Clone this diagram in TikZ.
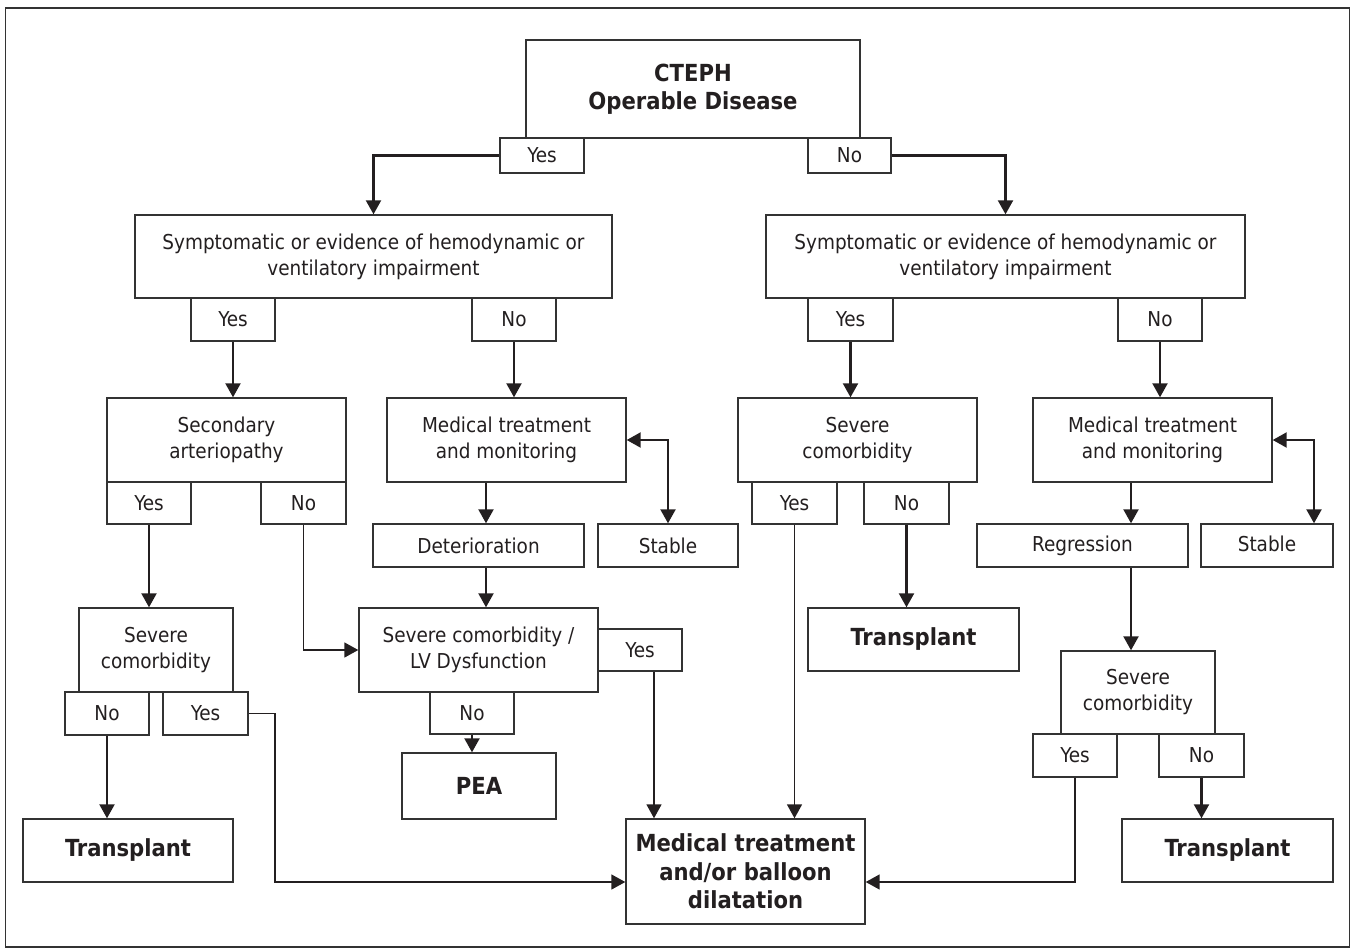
\documentclass[tikz,border=0pt]{standalone}
\usepackage{fontspec}
\setmainfont{DejaVu Sans Condensed}
\usetikzlibrary{arrows.meta,calc}
\definecolor{ink}{HTML}{231F20}
\definecolor{edge}{HTML}{333333}
\begin{document}
\begin{tikzpicture}[x=1pt,y=-1pt,
  box/.style={draw=edge,line width=1.4pt,fill=white,inner sep=0pt,align=center,text=ink,
    font=\fontsize{20.5}{26}\selectfont},
  bbox/.style={box,font=\fontsize{23.5}{28.5}\selectfont\bfseries},
  arr/.style={draw=ink,line width=2.2pt,-{Triangle[length=14pt,width=15pt]}},
  arrthin/.style={arr,line width=1.6pt},
  arrboth/.style={draw=ink,line width=2.2pt,{Triangle[length=14pt,width=15pt]}-{Triangle[length=14pt,width=15pt]}}
]
\useasboundingbox (0,0) rectangle (1356,952);
\draw[draw=edge,line width=1.4pt] (5.5,8) rectangle (1349.5,947);

% top
\node[bbox,minimum width=334pt,minimum height=98pt] (cteph) at (693,89) {CTEPH\\Operable Disease};
\node[box,minimum width=84pt,minimum height=35pt] (y0) at (542,155.5) {Yes};
\node[box,minimum width=83pt,minimum height=35pt] (n0) at (849.5,155.5) {No};

% symptomatic
\node[box,minimum width=477pt,minimum height=83pt] (symL) at (373.5,256.5) {Symptomatic or evidence of hemodynamic or\\ventilatory impairment};
\node[box,minimum width=479pt,minimum height=83pt] (symR) at (1005.5,256.5) {Symptomatic or evidence of hemodynamic or\\ventilatory impairment};
\node[box,minimum width=84pt,minimum height=43pt] (yL) at (233,319.5) {Yes};
\node[box,minimum width=84pt,minimum height=43pt] (nL) at (514,319.5) {No};
\node[box,minimum width=85pt,minimum height=43pt] (yR) at (850.5,319.5) {Yes};
\node[box,minimum width=84pt,minimum height=43pt] (nR) at (1160,319.5) {No};

% level 3
\node[box,minimum width=239pt,minimum height=84pt] (sec) at (226.5,440) {Secondary\\arteriopathy};
\node[box,minimum width=84pt,minimum height=42pt] (secY) at (149,503) {Yes};
\node[box,minimum width=85pt,minimum height=42pt] (secN) at (303.5,503) {No};
\node[box,minimum width=239pt,minimum height=84pt] (medL) at (506.5,440) {Medical treatment\\and monitoring};
\node[box,minimum width=211pt,minimum height=43pt] (detL) at (478.5,545.5) {Deterioration};
\node[box,minimum width=140pt,minimum height=43pt] (stabL) at (668,545.5) {Stable};
\node[box,minimum width=239pt,minimum height=84pt] (sevM) at (857.5,440) {Severe\\comorbidity};
\node[box,minimum width=85pt,minimum height=42pt] (sevMY) at (794.5,503) {Yes};
\node[box,minimum width=85pt,minimum height=42pt] (sevMN) at (906.5,503) {No};
\node[box,minimum width=239pt,minimum height=84pt] (medR) at (1152.5,440) {Medical treatment\\and monitoring};
\node[box,minimum width=211pt,minimum height=43pt] (regR) at (1082.5,545.5) {Regression\vphantom{Stable}};
\node[box,minimum width=132pt,minimum height=43pt] (stabR) at (1267,545.5) {Stable\vphantom{g}};

% level 4
\node[box,minimum width=154pt,minimum height=84pt] (sevL) at (156,650) {Severe\\comorbidity};
\node[box,minimum width=84pt,minimum height=43pt] (sevLN) at (107,713.5) {No};
\node[box,minimum width=85pt,minimum height=43pt] (sevLY) at (205.5,713.5) {Yes};
\node[box,minimum width=239pt,minimum height=84pt] (lv) at (478.5,650) {Severe comorbidity /\\LV Dysfunction};
\node[box,minimum width=84pt,minimum height=42pt] (lvY) at (640,650) {Yes};
\node[box,minimum width=84pt,minimum height=42pt] (lvN) at (472,713) {No};
\node[bbox,minimum width=154pt,minimum height=66pt] (pea) at (479,786) {PEA};
\node[bbox,minimum width=211pt,minimum height=63pt] (transM) at (913.5,639.5) {Transplant};
\node[box,minimum width=154pt,minimum height=83pt] (sevR) at (1138,692.5) {Severe\\comorbidity};
\node[box,minimum width=84pt,minimum height=43pt] (sevRY) at (1075,755.5) {Yes};
\node[box,minimum width=85pt,minimum height=43pt] (sevRN) at (1201.5,755.5) {No};

% bottom
\node[bbox,minimum width=210pt,minimum height=63pt] (transL) at (128,850.5) {Transplant};
\node[bbox,minimum width=239pt,minimum height=105pt] (final) at (745.5,871.5) {Medical treatment\\and/or balloon\\dilatation};
\node[bbox,minimum width=211pt,minimum height=63pt] (transR) at (1227.5,850.5) {Transplant};

% helper coordinates
\coordinate (xa) at (486,0);
\coordinate (xb) at (654,0);
\coordinate (xc) at (1131,0);
\coordinate (xd) at (1314,0);
\coordinate (c1) at (275,882);
\coordinate (c2) at (1075,882);

% connectors
\draw[arr] (y0.west) -| (symL.north);
\draw[arr] (n0.east) -| (symR.north);
\draw[arr] (yL.south) -- (yL.south |- sec.north);
\draw[arr] (nL.south) -- (nL.south |- medL.north);
\draw[arr] (yR.south) -- (yR.south |- sevM.north);
\draw[arr] (nR.south) -- (nR.south |- medR.north);
\draw[arr] (medL.south -| xa) -- (detL.north -| xa);
\draw[arrboth] (medL.east) -| (stabL.north);
\draw[arr] (detL.south -| xa) -- (lv.north -| xa);
\draw[arr] (secY.south) -- (secY.south |- sevL.north);
\draw[arrthin] (secN.south) |- (lv.west);
\draw[arr] (lvN.south) -- (lvN.south |- pea.north);
\draw[arrthin] (lvY.south -| xb) -- (final.north -| xb);
\draw[arr] (sevLN.south) -- (sevLN.south |- transL.north);
\draw[arrthin] (sevLY.east) -| (c1) -- (c1 -| final.west);
\draw[arrthin] (sevMY.south) -- (sevMY.south |- final.north);
\draw[arr] (sevMN.south) -- (sevMN.south |- transM.north);
\draw[arr] (medR.south -| xc) -- (regR.north -| xc);
\draw[arrboth] (medR.east) -| (stabR.north -| xd);
\draw[arr] (regR.south -| xc) -- (sevR.north -| xc);
\draw[arr] (sevRN.south) -- (sevRN.south |- transR.north);
\draw[arrthin] (sevRY.south) -- (c2) -- (c2 -| final.east);
\end{tikzpicture}
\end{document}
